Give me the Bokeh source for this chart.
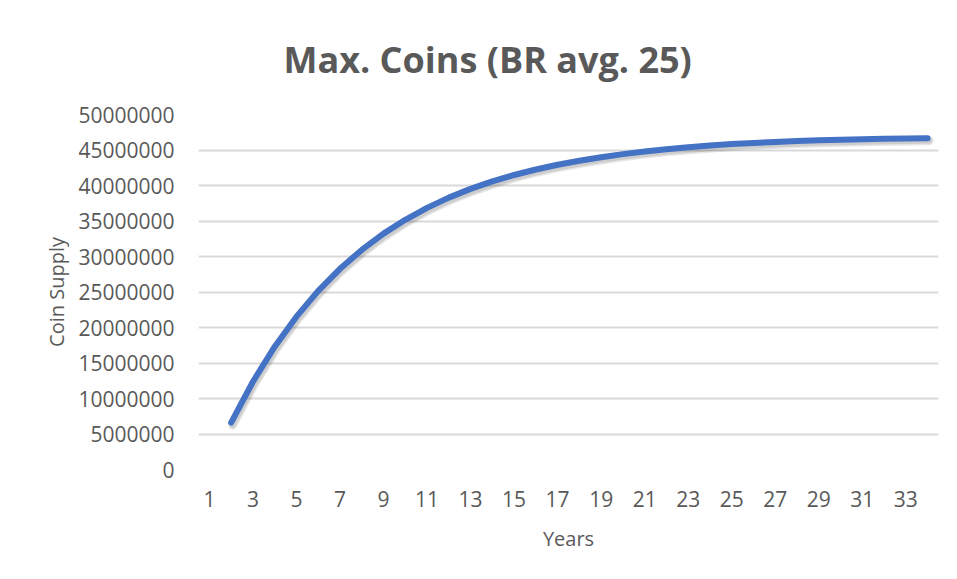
from bokeh.plotting import figure
from bokeh.models import FixedTicker, BasicTickFormatter, Range1d, BoxAnnotation
from bokeh.embed import file_html
from bokeh.resources import INLINE

# ---- data ----
years = list(range(2, 35))
coin_supply = [6600000, 12360000, 17300000, 21530000, 25160000, 28270000,
               30930000, 33220000, 35170000, 36850000, 38290000, 39520000,
               40570000, 41480000, 42250000, 42920000, 43490000, 43970000,
               44420000, 44800000, 45120000, 45400000, 45630000, 45830000,
               46000000, 46140000, 46260000, 46360000, 46440000, 46510000,
               46570000, 46620000, 46660000]
x_tick_labels = list(range(1, 34, 2))
y_ticks = list(range(0, 50000001, 5000000))
title_text = "Max. Coins (BR avg. 25)"

TEXT = "#595959"
FONT = "Open Sans"

p = figure(width=941, height=563, output_backend="svg", toolbar_location=None,
           x_range=Range1d(0.5, 34.5), y_range=Range1d(0, 50000000),
           min_border_left=198, min_border_right=3, min_border_top=114,
           min_border_bottom=94, title=title_text)
p.outline_line_color = None
p.background_fill_color = "white"
p.border_fill_color = "white"

# chart-area border (left and top edges only, as in the reference)
for l, r, t, b in [(6, 8, 8, 563), (6, 941, 8, 9)]:
    p.add_layout(BoxAnnotation(left=l, right=r, top=t, bottom=b,
                               left_units="canvas", right_units="canvas",
                               top_units="canvas", bottom_units="canvas",
                               fill_color="#d9d9d9", fill_alpha=1.0,
                               line_color=None))

p.title.text_font = FONT
p.title.text_font_size = "36px"
p.title.text_font_style = "bold"
p.title.text_color = TEXT
p.title.align = "left"
p.title.offset = 85
p.title.standoff = 62

# grid
p.xgrid.grid_line_color = None
p.ygrid.grid_line_color = "#d9d9d9"
p.ygrid.grid_line_width = 2
p.ygrid.ticker = FixedTicker(ticks=y_ticks)

# y axis
ya = p.yaxis[0]
ya.ticker = FixedTicker(ticks=y_ticks)
ya.formatter = BasicTickFormatter(use_scientific=False)
ya.axis_line_color = None
ya.major_tick_line_color = None
ya.minor_tick_line_color = None
ya.major_tick_out = 0
ya.major_tick_in = 0
ya.major_label_standoff = 24
ya.major_label_text_font = FONT
ya.major_label_text_font_size = "21px"
ya.major_label_text_color = TEXT
ya.axis_label = "Coin Supply"
ya.axis_label_text_font = FONT
ya.axis_label_text_font_size = "20px"
ya.axis_label_text_font_style = "normal"
ya.axis_label_text_color = TEXT
ya.axis_label_standoff = 5

# x axis
xa = p.xaxis[0]
xa.ticker = FixedTicker(ticks=x_tick_labels)
xa.axis_line_color = None
xa.major_tick_line_color = None
xa.minor_tick_line_color = None
xa.major_tick_out = 0
xa.major_tick_in = 0
xa.major_label_standoff = 21
xa.major_label_text_font = FONT
xa.major_label_text_font_size = "21px"
xa.major_label_text_color = TEXT
xa.axis_label = "Years"
xa.axis_label_text_font = FONT
xa.axis_label_text_font_size = "20px"
xa.axis_label_text_font_style = "normal"
xa.axis_label_text_color = TEXT
xa.axis_label_standoff = 15

# soft shadow under the line (offset down-right)
shadow_x = [x + 0.07 for x in years]
shadow_y = [y - 350000 for y in coin_supply]
p.line(shadow_x, shadow_y, line_color="#000000", line_alpha=0.10, line_width=9,
       line_cap="round", line_join="round")
p.line(shadow_x, shadow_y, line_color="#000000", line_alpha=0.10, line_width=6,
       line_cap="round", line_join="round")

p.line(years, coin_supply, line_color="#4472C4", line_width=6,
       line_cap="round", line_join="round")

open("out.html", "w").write(file_html(p, INLINE))
